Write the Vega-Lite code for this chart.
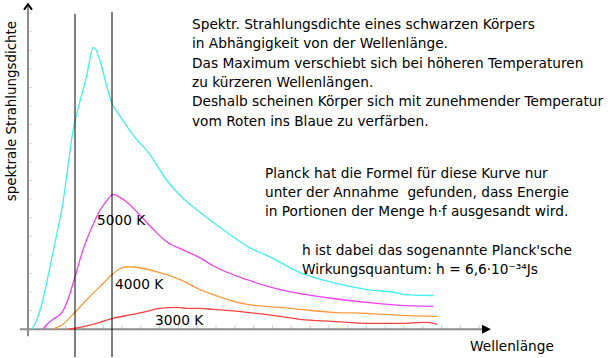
{
  "$schema": "https://vega.github.io/schema/vega-lite/v6.json",
  "width": 615,
  "height": 358,
  "autosize": {"type": "fit", "contains": "padding"},
  "padding": 0,
  "background": "white",
  "config": {"view": {"stroke": null}, "font": "DejaVu Sans"},
  "datasets": {
    "curves": [
      {"T": "6000 K", "wl": 4, "dens": 0}, {"T": "6000 K", "wl": 9, "dens": 10}, {"T": "6000 K", "wl": 15, "dens": 30}, {"T": "6000 K", "wl": 22, "dens": 63}, {"T": "6000 K", "wl": 29, "dens": 97}, {"T": "6000 K", "wl": 35, "dens": 128}, {"T": "6000 K", "wl": 39, "dens": 157}, {"T": "6000 K", "wl": 45, "dens": 200}, {"T": "6000 K", "wl": 52, "dens": 230}, {"T": "6000 K", "wl": 59, "dens": 257}, {"T": "6000 K", "wl": 62, "dens": 273}, {"T": "6000 K", "wl": 65, "dens": 284}, {"T": "6000 K", "wl": 68, "dens": 282}, {"T": "6000 K", "wl": 71, "dens": 274}, {"T": "6000 K", "wl": 75, "dens": 260}, {"T": "6000 K", "wl": 79, "dens": 244}, {"T": "6000 K", "wl": 84, "dens": 228}, {"T": "6000 K", "wl": 92, "dens": 215}, {"T": "6000 K", "wl": 105, "dens": 196}, {"T": "6000 K", "wl": 122, "dens": 176}, {"T": "6000 K", "wl": 139, "dens": 150}, {"T": "6000 K", "wl": 155, "dens": 132}, {"T": "6000 K", "wl": 172, "dens": 118}, {"T": "6000 K", "wl": 197, "dens": 99}, {"T": "6000 K", "wl": 222, "dens": 82}, {"T": "6000 K", "wl": 242, "dens": 73}, {"T": "6000 K", "wl": 272, "dens": 57}, {"T": "6000 K", "wl": 305, "dens": 47}, {"T": "6000 K", "wl": 339, "dens": 40}, {"T": "6000 K", "wl": 372, "dens": 36}, {"T": "6000 K", "wl": 375, "dens": 35}, {"T": "6000 K", "wl": 405, "dens": 34},
      {"T": "5000 K", "wl": 15, "dens": 0}, {"T": "5000 K", "wl": 19, "dens": 5}, {"T": "5000 K", "wl": 25, "dens": 10}, {"T": "5000 K", "wl": 34, "dens": 17}, {"T": "5000 K", "wl": 40, "dens": 30}, {"T": "5000 K", "wl": 47, "dens": 53}, {"T": "5000 K", "wl": 55, "dens": 80}, {"T": "5000 K", "wl": 64, "dens": 103}, {"T": "5000 K", "wl": 72, "dens": 120}, {"T": "5000 K", "wl": 79, "dens": 130}, {"T": "5000 K", "wl": 85, "dens": 136}, {"T": "5000 K", "wl": 92, "dens": 133}, {"T": "5000 K", "wl": 99, "dens": 128}, {"T": "5000 K", "wl": 112, "dens": 115}, {"T": "5000 K", "wl": 125, "dens": 101}, {"T": "5000 K", "wl": 139, "dens": 88}, {"T": "5000 K", "wl": 155, "dens": 80}, {"T": "5000 K", "wl": 172, "dens": 72}, {"T": "5000 K", "wl": 185, "dens": 64}, {"T": "5000 K", "wl": 219, "dens": 50}, {"T": "5000 K", "wl": 252, "dens": 40}, {"T": "5000 K", "wl": 272, "dens": 36}, {"T": "5000 K", "wl": 305, "dens": 31}, {"T": "5000 K", "wl": 339, "dens": 27}, {"T": "5000 K", "wl": 372, "dens": 24}, {"T": "5000 K", "wl": 405, "dens": 23},
      {"T": "4000 K", "wl": 25, "dens": 0}, {"T": "4000 K", "wl": 35, "dens": 5}, {"T": "4000 K", "wl": 45, "dens": 15}, {"T": "4000 K", "wl": 59, "dens": 30}, {"T": "4000 K", "wl": 72, "dens": 43}, {"T": "4000 K", "wl": 84, "dens": 55}, {"T": "4000 K", "wl": 92, "dens": 61}, {"T": "4000 K", "wl": 99, "dens": 63}, {"T": "4000 K", "wl": 112, "dens": 62}, {"T": "4000 K", "wl": 132, "dens": 57}, {"T": "4000 K", "wl": 152, "dens": 50}, {"T": "4000 K", "wl": 172, "dens": 40}, {"T": "4000 K", "wl": 185, "dens": 35}, {"T": "4000 K", "wl": 219, "dens": 25}, {"T": "4000 K", "wl": 252, "dens": 22}, {"T": "4000 K", "wl": 272, "dens": 20}, {"T": "4000 K", "wl": 305, "dens": 17}, {"T": "4000 K", "wl": 339, "dens": 16}, {"T": "4000 K", "wl": 372, "dens": 14}, {"T": "4000 K", "wl": 409, "dens": 13},
      {"T": "3000 K", "wl": 40, "dens": 0}, {"T": "3000 K", "wl": 47, "dens": 1}, {"T": "3000 K", "wl": 72, "dens": 7}, {"T": "3000 K", "wl": 85, "dens": 11}, {"T": "3000 K", "wl": 105, "dens": 15}, {"T": "3000 K", "wl": 119, "dens": 18}, {"T": "3000 K", "wl": 132, "dens": 21}, {"T": "3000 K", "wl": 149, "dens": 22}, {"T": "3000 K", "wl": 159, "dens": 21}, {"T": "3000 K", "wl": 172, "dens": 21}, {"T": "3000 K", "wl": 185, "dens": 20}, {"T": "3000 K", "wl": 219, "dens": 17}, {"T": "3000 K", "wl": 252, "dens": 13}, {"T": "3000 K", "wl": 272, "dens": 10}, {"T": "3000 K", "wl": 305, "dens": 8}, {"T": "3000 K", "wl": 339, "dens": 6}, {"T": "3000 K", "wl": 372, "dens": 6}, {"T": "3000 K", "wl": 399, "dens": 7}, {"T": "3000 K", "wl": 409, "dens": 5}
    ],
    "vlines": [
      {"wl": 47, "top": 318, "bottom": -28},
      {"wl": 84, "top": 320, "bottom": -28}
    ],
    "axislines": [
      {"x1": -8, "x2": 456, "y1": 0, "y2": 0},
      {"x1": 0, "x2": 0, "y1": -7, "y2": 327}
    ],
    "arrows": [
      {"kind": "x", "wl": 458.5, "dens": 0},
      {"kind": "y", "wl": 0, "dens": 325}
    ],
    "ticks": [
      {"axis": "x", "pos": 18.8}, {"axis": "x", "pos": 37.6}, {"axis": "x", "pos": 56.4}, {"axis": "x", "pos": 75.2}, {"axis": "x", "pos": 94}, {"axis": "x", "pos": 112.8}, {"axis": "x", "pos": 131.6}, {"axis": "x", "pos": 150.4}, {"axis": "x", "pos": 169.2}, {"axis": "x", "pos": 188}, {"axis": "x", "pos": 206.8}, {"axis": "x", "pos": 225.6}, {"axis": "x", "pos": 244.4}, {"axis": "x", "pos": 263.2}, {"axis": "x", "pos": 282}, {"axis": "x", "pos": 300.8}, {"axis": "x", "pos": 319.6}, {"axis": "x", "pos": 338.4}, {"axis": "x", "pos": 357.2}, {"axis": "x", "pos": 376}, {"axis": "x", "pos": 394.8}, {"axis": "x", "pos": 413.6}, {"axis": "x", "pos": 432.4}, {"axis": "x", "pos": 451.2},
      {"axis": "y", "pos": 18.75}, {"axis": "y", "pos": 37.5}, {"axis": "y", "pos": 56.25}, {"axis": "y", "pos": 75}, {"axis": "y", "pos": 93.75}, {"axis": "y", "pos": 112.5}, {"axis": "y", "pos": 131.25}, {"axis": "y", "pos": 150}, {"axis": "y", "pos": 168.75}, {"axis": "y", "pos": 187.5}, {"axis": "y", "pos": 206.25}, {"axis": "y", "pos": 225}, {"axis": "y", "pos": 243.75}, {"axis": "y", "pos": 262.5}, {"axis": "y", "pos": 281.25}, {"axis": "y", "pos": 300}, {"axis": "y", "pos": 318.75}
    ],
    "blocks": [
      {"text": "Spektr. Strahlungsdichte eines schwarzen Körpers\nin Abhängigkeit von der Wellenlänge.\nDas Maximum verschiebt sich bei höheren Temperaturen\nzu kürzeren Wellenlängen.\nDeshalb scheinen Körper sich mit zunehmender Temperatur\nvom Roten ins Blaue zu verfärben.", "wl": 164, "dens": 303},
      {"text": "Planck hat die Formel für diese Kurve nur\nunter der Annahme\u00a0 gefunden, dass Energie\nin Portionen der Menge h·f ausgesandt wird.", "wl": 237, "dens": 153},
      {"text": "h ist dabei das sogenannte Planck'sche\nWirkungsquantum: h = 6,6·10⁻³⁴Js", "wl": 274, "dens": 75}
    ],
    "labels": [
      {"text": "5000 K", "wl": 69, "dens": 109},
      {"text": "4000 K", "wl": 87, "dens": 45},
      {"text": "3000 K", "wl": 127, "dens": 8},
      {"text": "Wellenlänge", "wl": 442, "dens": -18}
    ],
    "ylabel": [
      {"text": "spektrale Strahlungsdichte", "wl": -16, "dens": 220}
    ]
  },
  "layer": [
    {
      "data": {"name": "ticks"},
      "transform": [{"filter": "datum.axis === 'x'"}],
      "mark": {"type": "tick", "orient": "vertical", "size": 4, "thickness": 1, "color": "#b4b4b4"},
      "encoding": {
        "x": {"field": "pos", "type": "quantitative", "scale": {"domain": [-28, 587], "nice": false, "zero": false}, "axis": null},
        "y": {"datum": 2, "type": "quantitative", "scale": {"domain": [-28, 330], "nice": false, "zero": false}, "axis": null}
      }
    },
    {
      "data": {"name": "ticks"},
      "transform": [{"filter": "datum.axis === 'y'"}],
      "mark": {"type": "tick", "orient": "horizontal", "size": 4, "thickness": 1, "color": "#c8c8c8"},
      "encoding": {
        "x": {"datum": 2, "type": "quantitative", "axis": null},
        "y": {"field": "pos", "type": "quantitative", "axis": null}
      }
    },
    {
      "data": {"name": "axislines"},
      "mark": {"type": "rule", "color": "#8c8c8c", "strokeWidth": 2},
      "encoding": {
        "x": {"field": "x1", "type": "quantitative", "axis": null},
        "x2": {"field": "x2"},
        "y": {"field": "y1", "type": "quantitative", "axis": null},
        "y2": {"field": "y2"}
      }
    },
    {
      "data": {"name": "arrows"},
      "transform": [{"filter": "datum.kind === 'x'"}],
      "mark": {"type": "point", "shape": "M-1,-1L1,0L-1,1Z", "size": 81, "filled": true, "color": "black", "opacity": 1},
      "encoding": {
        "x": {"field": "wl", "type": "quantitative", "axis": null},
        "y": {"field": "dens", "type": "quantitative", "axis": null}
      }
    },
    {
      "data": {"name": "arrows"},
      "transform": [{"filter": "datum.kind === 'y'"}],
      "mark": {"type": "point", "shape": "M-1,0.7L0,-0.7L1,0.7", "size": 64, "filled": false, "stroke": "black", "strokeWidth": 2, "opacity": 1},
      "encoding": {
        "x": {"field": "wl", "type": "quantitative", "axis": null},
        "y": {"field": "dens", "type": "quantitative", "axis": null}
      }
    },
    {
      "data": {"name": "curves"},
      "mark": {"type": "line", "strokeWidth": 1.3, "interpolate": "monotone"},
      "encoding": {
        "x": {"field": "wl", "type": "quantitative", "axis": null},
        "y": {"field": "dens", "type": "quantitative", "axis": null},
        "color": {"field": "T", "type": "nominal", "legend": null, "scale": {"domain": ["6000 K", "5000 K", "4000 K", "3000 K"], "range": ["#40f0f0", "#f040f0", "#ff9a3c", "#ff4040"]}}
      }
    },
    {
      "data": {"name": "vlines"},
      "mark": {"type": "rule", "color": "black", "strokeWidth": 1},
      "encoding": {
        "x": {"field": "wl", "type": "quantitative", "axis": null},
        "y": {"field": "top", "type": "quantitative", "axis": null},
        "y2": {"field": "bottom"}
      }
    },
    {
      "data": {"name": "blocks"},
      "mark": {"type": "text", "align": "left", "baseline": "alphabetic", "fontSize": 13.7, "lineBreak": "\n", "lineHeight": 19.4, "color": "black"},
      "encoding": {
        "x": {"field": "wl", "type": "quantitative", "axis": null},
        "y": {"field": "dens", "type": "quantitative", "axis": null},
        "text": {"field": "text"}
      }
    },
    {
      "data": {"name": "labels"},
      "mark": {"type": "text", "align": "left", "baseline": "middle", "fontSize": 13.7, "color": "black"},
      "encoding": {
        "x": {"field": "wl", "type": "quantitative", "axis": null},
        "y": {"field": "dens", "type": "quantitative", "axis": null},
        "text": {"field": "text"}
      }
    },
    {
      "data": {"name": "ylabel"},
      "mark": {"type": "text", "align": "center", "baseline": "middle", "angle": 270, "fontSize": 13.4, "color": "black"},
      "encoding": {
        "x": {"field": "wl", "type": "quantitative", "axis": null},
        "y": {"field": "dens", "type": "quantitative", "axis": null},
        "text": {"field": "text"}
      }
    }
  ]
}
